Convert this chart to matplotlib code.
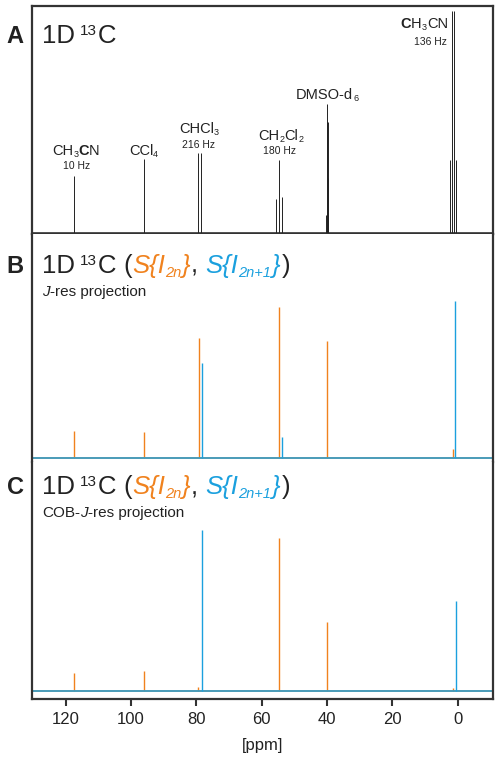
import numpy as np
import matplotlib
matplotlib.use('Agg')
import matplotlib.pyplot as plt
from matplotlib.transforms import IdentityTransform

plt.rcParams['font.family'] = ['Liberation Sans', 'DejaVu Sans']

# panel A: 1D 13C, peak positions (ppm) and heights
ppm_A = [117.6, 96.1, 79.6, 78.6, 55.5, 54.6, 53.8,
         40.2, 40.1, 40.0, 39.9, 39.8, 39.7, 39.6,
         2.475, 1.825, 1.175, 0.525]
int_A = [57, 74, 80, 80, 34, 73, 36,
         18, 55, 111, 129, 111, 55, 18,
         73, 222, 222, 73]

# panel B: J-res projection
ppm_B_even = [117.6, 96.1, 79.1, 54.6, 39.9, 1.5]
int_B_even = [27, 26, 120, 151, 117, 9]
ppm_B_odd = [78.4, 53.9, 0.7]
int_B_odd = [95, 21, 157]

# panel C: COB-J-res projection
ppm_C_even = [117.6, 96.1, 79.6, 54.6, 39.9, 1.5]
int_C_even = [18, 20, 4, 153, 69, 3]
ppm_C_odd = [78.4, 0.6]
int_C_odd = [161, 90]

xticks = [120, 100, 80, 60, 40, 20, 0]

ORANGE = '#F0821E'
BLUE = '#1BA0DE'
DARK = '#333333'
TXT = '#222222'

fig = plt.figure(figsize=(5, 7.62), dpi=100)
W, H = 500, 762
left, right = 31.7, 492.7
PX = 100 / 72.0


def make_ax(top, bottom):
    return fig.add_axes([left / W, (H - bottom) / H, (right - left) / W, (bottom - top) / H])


axA = make_ax(6, 234)
axB = make_ax(234, 462)
axC = make_ax(462, 699)

for ax in (axA, axB, axC):
    ax.set_xlim(130.4, -10.7)
    ax.set_yticks([])
    for s in ax.spines.values():
        s.set_color(DARK)
        s.set_linewidth(1.6)

axA.set_ylim(-1, 227)
axB.set_ylim(-4, 224)
axC.set_ylim(-8, 229)

axA.set_xticks([])
axB.set_xticks([])
axB.spines['top'].set_visible(False)
axB.spines['bottom'].set_visible(False)
axC.spines['top'].set_visible(False)
axC.set_xticks(xticks)
axC.set_xticklabels([str(t) for t in xticks], fontsize=12, color=TXT)
axC.tick_params(axis='x', direction='out', length=5, width=1.5, color=DARK, pad=4)
axC.set_xlabel('[ppm]', fontsize=12, color=TXT, labelpad=8)

# spectra
axA.vlines(ppm_A, 0, int_A, color=TXT, lw=0.7)
axA.axhline(0, color=TXT, lw=1.8)

axB.axhline(0, color=ORANGE, lw=1.2)
axB.vlines(ppm_B_even, 0, int_B_even, color=ORANGE, lw=1.0)
axB.vlines(ppm_B_odd, 0, int_B_odd, color=BLUE, lw=1.0)
axB.axhline(0, color=BLUE, lw=1.1)

axC.axhline(0, color=ORANGE, lw=1.2)
axC.vlines(ppm_C_even, 0, int_C_even, color=ORANGE, lw=1.0)
axC.vlines(ppm_C_odd, 0, int_C_odd, color=BLUE, lw=1.0)
axC.axhline(0, color=BLUE, lw=1.1)

renderer = fig.canvas.get_renderer()


def P(s, fs, dy=0, c=TXT, w='normal', st='normal', gap=0):
    return (s, fs, dy, c, w, st, gap)


def rich(x, ytop, parts, ha='left'):
    # x in display px, ytop = baseline measured from top of image
    y = H - ytop
    texts, xs = [], []
    cur = 0
    for s, fs, dy, c, w, st, gap in parts:
        cur += gap * fs * PX
        t = fig.text(0, 0, s, transform=IdentityTransform(), fontsize=fs, color=c,
                     fontweight=w, fontstyle=st, ha='left', va='baseline')
        bb = t.get_window_extent(renderer)
        texts.append((t, dy))
        xs.append(cur)
        cur += bb.width
    shift = {'left': 0, 'center': -cur / 2, 'right': -cur}[ha]
    for (t, dy), xx in zip(texts, xs):
        t.set_position((x + shift + xx, y + dy * PX))


def xpx(ppm):
    return axA.transData.transform((ppm, 0))[0]


def chem(pieces, fs=10.5):
    # pieces: list of (text, bold, is_sub)
    out = []
    for s, b, sub in pieces:
        if sub:
            out.append(P(s, 6.5, -1.6))
        else:
            out.append(P(s, fs, 0, w='bold' if b else 'normal'))
    return out


# peak labels in A
rich(xpx(116.8), 155, chem([('CH', 0, 0), ('3', 0, 1), ('C', 1, 0), ('N', 0, 0)]), 'center')
rich(xpx(116.8), 169, [P('10 Hz', 7.5)], 'center')
rich(xpx(96.2), 155, chem([('CCl', 0, 0), ('4', 0, 1)]), 'center')
rich(xpx(79.2), 133, chem([('CHCl', 0, 0), ('3', 0, 1)]), 'center')
rich(xpx(79.4), 148, [P('216 Hz', 7.5)], 'center')
rich(xpx(54.1), 140, chem([('CH', 0, 0), ('2', 0, 1), ('Cl', 0, 0), ('2', 0, 1)]), 'center')
rich(xpx(54.6), 154, [P('180 Hz', 7.5)], 'center')
rich(xpx(40.0), 99, chem([('DMSO-d', 0, 0), ('6', 0, 1)]), 'center')
rich(xpx(3.0), 28, chem([('C', 1, 0), ('H', 0, 0), ('3', 0, 1), ('CN', 0, 0)]), 'right')
rich(xpx(3.3), 45, [P('136 Hz', 7.5)], 'right')

# panel letters
for letter, yb in (('A', 43), ('B', 273), ('C', 494)):
    fig.text(15 / W, (H - yb) / H, letter, fontsize=17, fontweight='bold',
             ha='center', va='baseline', color=TXT)

# titles
TS = 18.5
head = [P('1D', TS), P('13', 11, 5.8, gap=0.3), P('C', TS, gap=0.03)]
rich(42, 43, head)
full = head + [P('(', TS, gap=0.3),
               P('S{I', TS, c=ORANGE, st='italic'),
               P('2n', 10.5, -2.8, c=ORANGE, st='italic'),
               P('}', TS, c=ORANGE, st='italic', gap=0.03),
               P(',', TS),
               P('S{I', TS, c=BLUE, st='italic', gap=0.3),
               P('2n+1', 10.5, -2.8, c=BLUE, st='italic'),
               P('}', TS, c=BLUE, st='italic', gap=0.03),
               P(')', TS, gap=0.05)]
rich(42, 273, full)
rich(42, 494, full)
rich(42, 296, [P('J', 11, st='italic'), P('-res projection', 11)])
rich(42, 517, [P('COB-', 11), P('J', 11, st='italic'), P('-res projection', 11)])

fig.savefig('out.png', dpi=100)
